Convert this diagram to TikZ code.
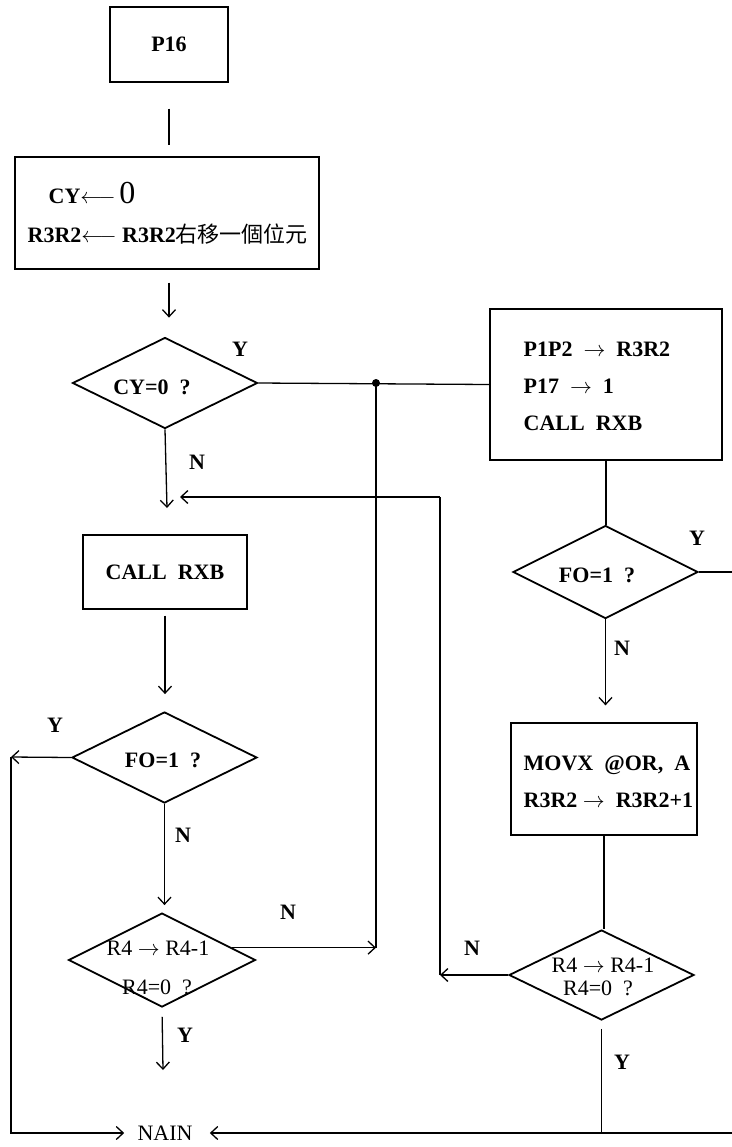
\documentclass[tikz,border=0pt]{standalone}
\usepackage{fontspec}
\setmainfont{Liberation Serif}
\newfontfamily\cjk{Noto Sans CJK TC}
\usetikzlibrary{shapes.geometric,arrows.meta}
\newcommand{\taille}[0]{\fontsize{11}{13}\selectfont}
\newcommand{\epais}[0]{0.9pt}
\newcommand{\marque}[3]{\node[font=\taille\bfseries] (#1) at (#2) {#3}}

\begin{document}
\begin{tikzpicture}[x=0.5pt, y=-0.5pt, line width=0.65pt,
  >={Straight Barb[length=3.5pt, width=6.5pt]},
  boite/.style={draw, inner sep=0pt},
  losange/.style={draw, line width=\epais, diamond, inner sep=0pt},
  ligne/.style={font=\taille\bfseries, anchor=base west, inner sep=0pt},
  mince/.style={font=\taille, inner sep=0pt}]
\useasboundingbox (0,0) rectangle (732,1147);
%Left column
	\node[boite, minimum width=59pt, minimum height=37.5pt, font=\taille\bfseries] (p16) at (169,44.5) {P16};
	\node[boite, minimum width=152pt, minimum height=56pt] (box1) at (167,213) {};
	\node[ligne] (cy) at (48,203) {CY$\longleftarrow$\,{\fontsize{16}{16}\selectfont\mdseries 0}};
	\node[ligne] (dec) at (27,242) {R3R2$\longleftarrow$ R3R2{\cjk\mdseries 右移一個位元}};
	\node[losange, minimum width=92.5pt, minimum height=45.5pt] (d1) at (165,383) {};
	\node[font=\taille\bfseries] (q1) at (152,387) {CY=0 \ ?};
	\node[boite, minimum width=82pt, minimum height=37pt, font=\taille\bfseries] (call) at (165,572) {CALL \ RXB};
	\node[losange, minimum width=92.5pt, minimum height=45.5pt] (d4) at (164.5,757.5) {};
	\node[font=\taille\bfseries] (q4) at (163,760) {FO=1 \ ?};
	\node[losange, minimum width=93.5pt, minimum height=47pt] (d5) at (162,960) {};
	\node[mince] (r4a) at (158,948) {R4 $\rightarrow$ R4-1};
	\node[mince] (r4b) at (157,987) {R4=0 \ ?};
	\node[font=\taille] (nain) at (165,1133) {NAIN};
%Right column
	\node[boite, minimum width=116pt, minimum height=75.5pt] (box2) at (606,384.5) {};
	\node[ligne] (p1p2) at (523,356) {P1P2 \ $\rightarrow$ \ R3R2};
	\node[ligne] (p17) at (523,393) {P17 \ $\rightarrow$ \ 1};
	\node[ligne] (rxb) at (523,430) {CALL \ RXB};
	\node[losange, minimum width=92.5pt, minimum height=46.5pt] (d2) at (605.5,572) {};
	\node[font=\taille\bfseries] (q2) at (597,575) {FO=1 \ ?};
	\node[boite, minimum width=93pt, minimum height=56pt] (box3) at (604,779) {};
	\node[ligne] (movx) at (523,770) {MOVX \ @OR, \ A};
	\node[ligne] (inc) at (523,807) {R3R2 $\rightarrow$ \ R3R2+1};
	\node[losange, minimum width=92.5pt, minimum height=45pt] (d3) at (601.5,975) {};
	\node[mince] (r4c) at (603,965) {R4 $\rightarrow$ R4-1};
	\node[mince] (r4d) at (598,988) {R4=0 \ ?};
%Y and N
	\marque{y1}{240,349}{Y};
	\marque{n1}{197,462}{N};
	\marque{y2}{697,538}{Y};
	\marque{n2}{622,648}{N};
	\marque{y3}{55,725}{Y};
	\marque{n3}{183,835}{N};
	\marque{n4}{288,912}{N};
	\marque{y4}{185,1035}{Y};
	\marque{n5}{472,948}{N};
	\marque{y5}{622,1062}{Y};
%Points
	\coordinate (pt1) at (376,383);
	\coordinate (m1) at (167,508);
	\coordinate (c2) at (440,497);
	\coordinate (c3) at (11,757);
	\coordinate (c4) at (732,572);
	\coordinate (c5) at (732,1133);
	\coordinate (m2) at (163,1070);
%Links
	\draw[shorten <=13pt, shorten >=5.5pt] (p16.south) -- (p16.south |- box1.north);
	\draw[->, shorten <=6.5pt, shorten >=9.5pt] (box1.south -| p16.south) -- (p16.south |- d1.north);
	\draw (d1.east) -- (box2.west);
	\fill (pt1) circle (2pt);
	\draw (pt1) -- (pt1 |- d5.10);
	\draw[->] (d5.10) -- (d5.10 -| pt1);
	\draw[->] (d1.south) -- (m1);
	\draw[->] (d3.west) -- (d3.west -| c2);
	\draw (d3.west -| c2) -- (c2);
	\draw[->, shorten >=7.5pt] (c2) -- (d1.south |- c2);
	\draw[->, shorten <=3pt, shorten >=8.5pt] (call.south) -- (call.south |- d4.north);
	\draw[->] (d4.west) -- (c3);
	\draw[->, shorten >=3pt] (c3) |- (nain.west);
	\draw[->, shorten >=3.5pt] (d4.south) -- (d4.south |- d5.north);
	\draw[->, shorten <=4.5pt] (d5.south) -- (m2);
	\draw (box2.south) -- (box2.south |- d2.north);
	\draw (d2.east) -- (c4);
	\draw[->, shorten >=8.5pt] (d2.south) -- (d2.south |- box3.north);
	\draw (box3.south) -- (box3.south |- d3.north);
	\draw[shorten <=4pt] (d3.south) -- (d3.south |- c5);
	\draw[->, shorten >=5pt] (c5) -- (nain.east);
\end{tikzpicture}
\end{document}
